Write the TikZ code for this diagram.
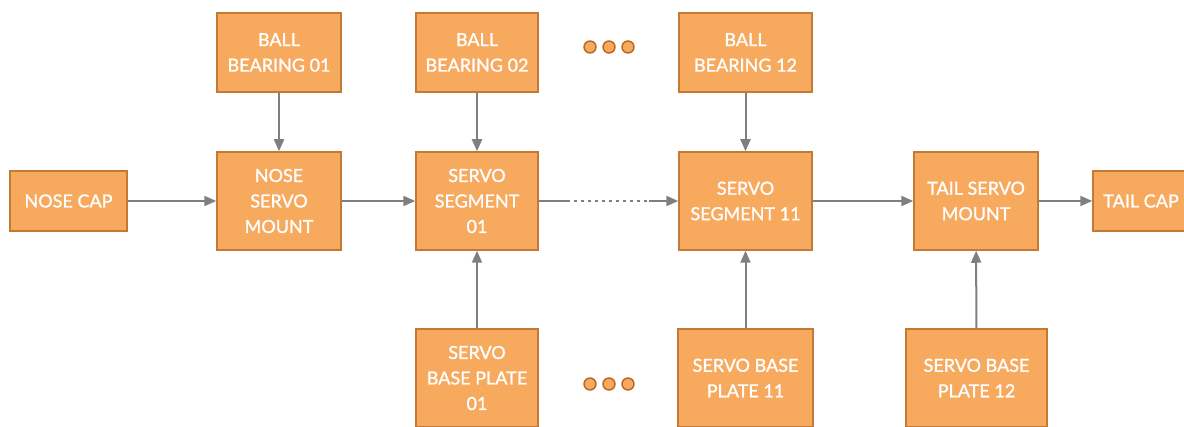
\documentclass[tikz,border=0pt]{standalone}
\usepackage{fontspec}
\setmainfont{Lato}
\newfontfamily\lblfont[FakeBold=1.2]{Lato}
\usetikzlibrary{arrows.meta,calc}
\definecolor{boxfill}{HTML}{F7A95E}
\definecolor{boxline}{HTML}{C47A34}
\definecolor{conn}{HTML}{7F7F7F}
\definecolor{dotline}{HTML}{B8661E}
\tikzset{
  blk/.style={draw=boxline, fill=boxfill, line width=1.5pt, text=white, align=center,
    inner sep=0pt, font=\lblfont\fontsize{18}{25.5}\selectfont},
  conarrow/.style={draw=conn, line width=2pt, -{Triangle[length=12pt,width=10pt]}},
  ellip/.style={circle, draw=dotline, fill=boxfill, line width=1.4pt, minimum size=12pt, inner sep=0pt}
}
\begin{document}
\begin{tikzpicture}[x=1pt,y=-1pt]
\useasboundingbox (0,0) rectangle (1184,427);
\clip (0,0) rectangle (1184,427);
% nodes
\node[blk, minimum width=117pt, minimum height=60pt] (nosecap) at (68.5,201) {NOSE CAP};
\node[blk, minimum width=124pt, minimum height=79pt] (bb01) at (279,52.5) {BALL\\BEARING 01};
\node[blk, minimum width=124pt, minimum height=98pt] (nsm) at (279,201) {NOSE\\SERVO\\MOUNT};
\node[blk, minimum width=122pt, minimum height=79pt] (bb02) at (477,52.5) {BALL\\BEARING 02};
\node[blk, minimum width=122pt, minimum height=98pt] (ss01) at (477,201) {SERVO\\SEGMENT\\01};
\node[blk, minimum width=122pt, minimum height=98pt] (sbp01) at (477,378) {SERVO\\BASE PLATE\\01};
\node[blk, minimum width=133pt, minimum height=79pt] (bb12) at (745.5,52.5) {BALL\\BEARING 12};
\node[blk, minimum width=133pt, minimum height=98pt] (ss11) at (745.5,201) {SERVO\\SEGMENT 11};
\node[blk, minimum width=135pt, minimum height=98pt] (sbp11) at (745.5,378) {SERVO BASE\\PLATE 11};
\node[blk, minimum width=124pt, minimum height=98pt] (tsm) at (976,201) {TAIL SERVO\\MOUNT};
\node[blk, minimum width=141pt, minimum height=98pt] (sbp12) at (976.5,378) {SERVO BASE\\PLATE 12};
\node[blk, minimum width=96pt, minimum height=60pt] (tailcap) at (1141,201) {TAIL CAP};
% ellipsis dots
\node[ellip] (dt1) at (590,47) {};
\node[ellip] (dt2) at (609,47) {};
\node[ellip] (dt3) at (628,47) {};
\node[ellip] (db1) at (590,384) {};
\node[ellip] (db2) at (609,384) {};
\node[ellip] (db3) at (628,384) {};
% connectors
\draw[conarrow] (nosecap) -- (nsm);
\draw[conarrow] (nsm) -- (ss01);
\draw[conarrow] (ss01) -- (ss11);
\draw[white, line width=2.6pt, dash pattern=on 4pt off 3pt] ($(ss01.east)+(31,0)$) -- ($(ss01.east)+(110,0)$);
\draw[conarrow] (ss11) -- (tsm);
\draw[conarrow] (tsm) -- (tailcap);
\draw[conarrow] (bb01) -- (nsm);
\draw[conarrow] (bb02) -- (ss01);
\draw[conarrow] (bb12) -- (ss11);
\draw[conarrow] (sbp01) -- (ss01);
\draw[conarrow] (sbp11) -- (ss11);
\draw[conarrow] (sbp12) -- (tsm);
\end{tikzpicture}
\end{document}
